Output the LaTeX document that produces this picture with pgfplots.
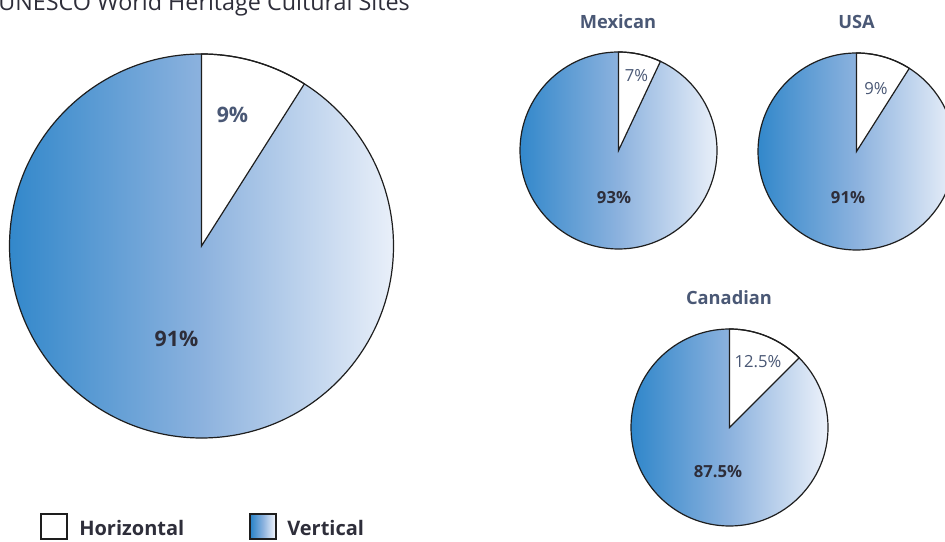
\documentclass[border=0pt]{standalone}
\usepackage{pgfplots}
\pgfplotsset{compat=1.18}
\usepackage{fontspec}
\setmainfont{Open Sans}

\definecolor{pieL}{RGB}{38,130,200}
\definecolor{pieM}{RGB}{140,178,222}
\definecolor{pieR}{RGB}{246,248,253}
\definecolor{lab}{RGB}{74,88,117}
\definecolor{dark}{RGB}{46,46,58}
\definecolor{edge}{RGB}{30,30,30}

% one pie: centre x, centre y, radius (px), share of the white slice (%)
\newcommand\pie[4]{%
  \shade[left color=pieL, right color=pieR, middle color=pieM]
    (axis cs:#1,#2) -- ++({90-#4*3.6}:{#3*0.75pt})
    arc[start angle={90-#4*3.6}, end angle=-270, radius={#3*0.75pt}] -- cycle;
  \draw[edge, line width=0.9pt, fill=white]
    (axis cs:#1,#2) -- ++(90:{#3*0.75pt})
    arc[start angle=90, end angle={90-#4*3.6}, radius={#3*0.75pt}] -- cycle;
  \draw[edge, line width=0.9pt] (axis cs:#1,#2) circle[radius={#3*0.75pt}];
}

\begin{document}
\begin{tikzpicture}
\path[use as bounding box, clip] (0,0) rectangle (708.75pt,406.5pt);
\begin{axis}[
    at={(0,0)}, anchor=south west,
    x=0.75pt, y=0.75pt,
    xmin=0, xmax=945, ymin=0, ymax=542,
    hide axis,
    clip=false,
]
\addplot[draw=none, forget plot] coordinates {(0,0) (945,542)};

% title
\node[anchor=base east, inner sep=0pt, text=dark, font=\fontsize{17.5}{20}\selectfont]
  at (axis cs:410,531) {UNESCO World Heritage Cultural Sites};

% big pie: horizontal 9, vertical 91
\pie{201.5}{296}{192}{9}
\node[anchor=base, text=lab, font=\fontsize{16}{18}\selectfont\bfseries] at (axis cs:232.5,419) {9\%};
\node[anchor=base, text=dark, font=\fontsize{16}{18}\selectfont\bfseries] at (axis cs:176.5,195) {91\%};

% Mexican: 7 / 93
\node[anchor=base, text=lab, font=\fontsize{13.7}{16}\selectfont\bfseries] at (axis cs:618,513) {Mexican};
\pie{618.5}{391.5}{98.5}{7}
\node[anchor=base, text=lab, font=\fontsize{12.5}{14}\selectfont] at (axis cs:636.5,460) {7\%};
\node[anchor=base, text=dark, font=\fontsize{12.5}{14}\selectfont\bfseries] at (axis cs:614,338) {93\%};

% USA: 9 / 91
\node[anchor=base, text=lab, font=\fontsize{13.7}{16}\selectfont\bfseries] at (axis cs:856.5,513) {USA};
\pie{856.5}{390.5}{98.5}{9}
\node[anchor=base, text=lab, font=\fontsize{12.5}{14}\selectfont] at (axis cs:876,447) {9\%};
\node[anchor=base, text=dark, font=\fontsize{12.5}{14}\selectfont\bfseries] at (axis cs:848,338) {91\%};

% Canadian: 12.5 / 87.5
\node[anchor=base, text=lab, font=\fontsize{13.7}{16}\selectfont\bfseries] at (axis cs:729,237) {Canadian};
\pie{729.5}{114.5}{98.5}{12.5}
\node[anchor=base, text=lab, font=\fontsize{12.5}{14}\selectfont] at (axis cs:758,174) {12.5\%};
\node[anchor=base, text=dark, font=\fontsize{12.5}{14}\selectfont\bfseries] at (axis cs:718,64) {87.5\%};

% legend
\draw[edge, line width=0.9pt, fill=white] (axis cs:41,3) rectangle (axis cs:67,28);
\node[anchor=base west, inner sep=0pt, text=dark, font=\fontsize{15}{18}\selectfont\bfseries] at (axis cs:79,7) {Horizontal};
\shade[left color=pieL, right color=pieR, middle color=pieM] (axis cs:250,3) rectangle (axis cs:276,28);
\draw[edge, line width=0.9pt] (axis cs:250,3) rectangle (axis cs:276,28);
\node[anchor=base west, inner sep=0pt, text=dark, font=\fontsize{15}{18}\selectfont\bfseries] at (axis cs:287,7) {Vertical};
\end{axis}
\end{tikzpicture}
\end{document}
